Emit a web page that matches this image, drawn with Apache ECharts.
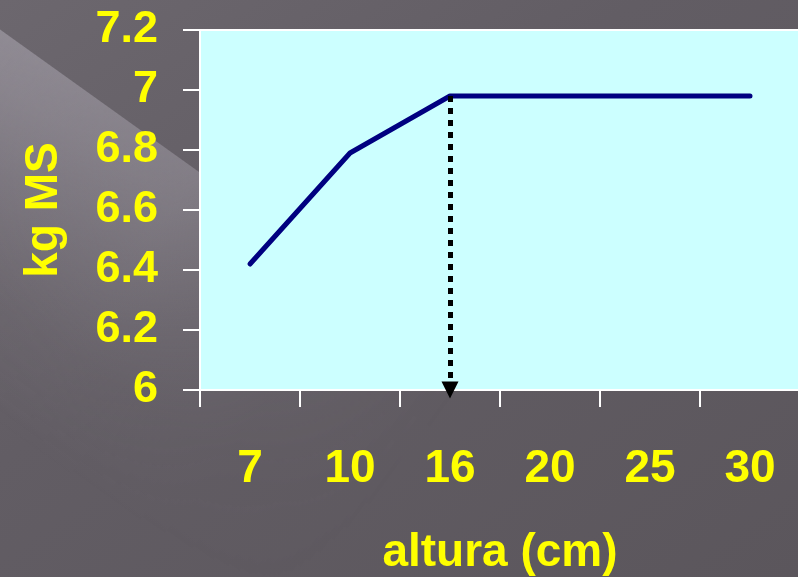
<!DOCTYPE html>
<html>
<head>
<meta charset="utf-8">
<style>
html,body{margin:0;padding:0;background:#5e5960;}
#wrap{position:relative;width:798px;height:577px;overflow:hidden;
  background:linear-gradient(to bottom right,#6c676e 0%,#625d64 40%,#5b565c 100%);}
#glow{position:absolute;left:0;top:0;width:798px;height:577px;
  background:linear-gradient(215.6deg,rgba(0,0,0,0) 0px,rgba(0,0,0,0) 488px,rgba(165,160,170,0.65) 489px,rgba(165,160,170,0.58) 530px,rgba(165,160,170,0.12) 710px,rgba(165,160,170,0) 810px);
  -webkit-mask-image:linear-gradient(125.6deg,rgba(0,0,0,1) 0px,rgba(0,0,0,0.72) 260px,rgba(0,0,0,0.15) 450px,rgba(0,0,0,0) 600px);
  mask-image:linear-gradient(125.6deg,rgba(0,0,0,1) 0px,rgba(0,0,0,0.72) 260px,rgba(0,0,0,0.15) 450px,rgba(0,0,0,0) 600px);}
#c{position:absolute;left:0;top:0;width:798px;height:577px;}
</style>
<script src="https://cdn.jsdelivr.net/npm/echarts@6/dist/echarts.min.js"></script>
</head>
<body>
<div id="wrap"><div id="glow"></div><div id="c"></div></div>
<script>
const categories = ['7', '10', '16', '20', '25', '30'];
const values = [6.42, 6.79, 6.98, 6.98, 6.98, 6.98];
const yTicks = { min: 6, max: 7.2, interval: 0.2 };
const markFrom = ['16', 6.98];
const markTo = ['16', 6];

const FONT = '"Liberation Sans", Arial, sans-serif';
const YEL = '#ffff00';
const chart = echarts.init(document.getElementById('c'));
chart.setOption({
  animation: false,
  backgroundColor: 'transparent',
  grid: {
    left: 200, top: 30, width: 600, height: 360, outerBoundsMode: 'none', containLabel: false,
    show: true, backgroundColor: '#ccffff', borderColor: '#ffffff', borderWidth: 2
  },
  xAxis: {
    type: 'category', data: categories, boundaryGap: true,
    name: 'altura (cm)', nameLocation: 'middle', nameGap: 140,
    nameTextStyle: { color: YEL, fontSize: 46, fontWeight: 'bold', fontFamily: FONT },
    axisLine: { show: true, lineStyle: { color: '#ffffff', width: 2 } },
    axisTick: { show: true, length: 17, lineStyle: { color: '#ffffff', width: 2 } },
    axisLabel: { color: YEL, fontSize: 46, fontWeight: 'bold', fontFamily: FONT, margin: 56 },
    splitLine: { show: false }
  },
  yAxis: {
    type: 'value', min: yTicks.min, max: yTicks.max, interval: yTicks.interval,
    name: 'kg MS', nameLocation: 'middle', nameGap: 133, nameRotate: 90,
    nameTextStyle: { color: YEL, fontSize: 46, fontWeight: 'bold', fontFamily: FONT },
    axisLine: { show: true, lineStyle: { color: '#ffffff', width: 2 } },
    axisTick: { show: true, length: 17, lineStyle: { color: '#ffffff', width: 2 } },
    axisLabel: { color: YEL, fontSize: 45, fontWeight: 'bold', fontFamily: FONT, margin: 42,
      formatter: v => String(Math.round(v * 10) / 10) },
    splitLine: { show: false }
  },
  series: [{
    type: 'line', data: values, symbol: 'none',
    lineStyle: { color: '#000080', width: 5, cap: 'round', join: 'round' },
    markLine: {
      silent: true, symbol: ['none', 'triangle'], symbolSize: [17, 17],
      label: { show: false },
      lineStyle: { color: '#000000', width: 5, type: [6, 6] },
      data: [[{ coord: markFrom }, { coord: markTo }]]
    }
  }]
});
</script>
</body>
</html>
